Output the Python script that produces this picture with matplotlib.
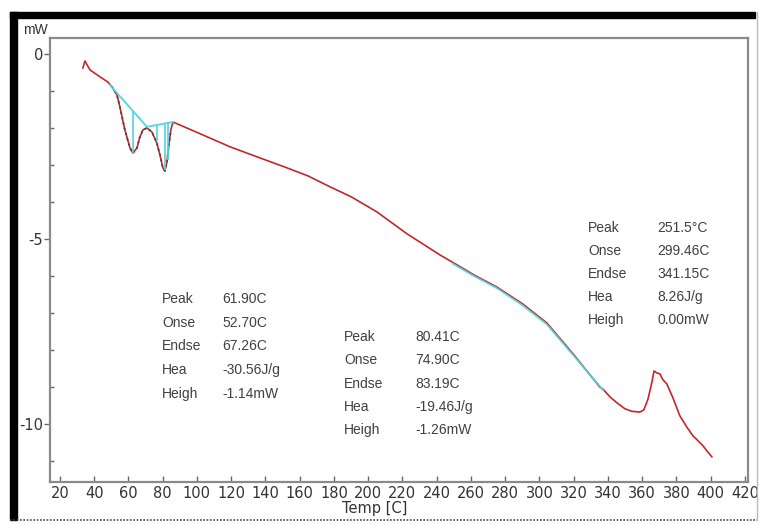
import matplotlib
matplotlib.use("Agg")
import matplotlib.pyplot as plt
from matplotlib.patches import Rectangle
from matplotlib.lines import Line2D
import numpy as np

# DSC curve
temp = [33.4, 34.6, 37.5, 43.4, 48.0, 50.4, 53.3, 55.0, 57.9, 60.9, 62.6, 65.0,
        66.7, 68.5, 70.8, 73.7, 76.6, 78.4, 80.1, 81.3, 82.5, 83.6, 84.8, 86.0,
        100.0, 119.3, 135.0, 152.6, 165.0, 177.6, 190.0, 205.1, 222.6, 241.8,
        251.8, 262.0, 275.1, 290.0, 304.3, 320.6, 335.2, 337.1, 341.2, 345.0,
        349.9, 354.0, 358.7, 361.0, 363.4, 365.7, 366.9, 368.5, 370.4, 372.0,
        374.4, 378.0, 382.0, 386.0, 389.6, 392.5, 395.5, 398.0, 400.7]
heat = [-0.38, -0.19, -0.43, -0.62, -0.76, -0.89, -1.11, -1.43, -2.05, -2.54,
        -2.68, -2.54, -2.24, -2.05, -2.00, -2.11, -2.41, -2.73, -3.08, -3.16,
        -2.92, -2.46, -2.05, -1.84, -2.12, -2.51, -2.78, -3.08, -3.30, -3.59,
        -3.86, -4.27, -4.86, -5.43, -5.70, -5.98, -6.30, -6.75, -7.27, -8.16,
        -9.00, -9.06, -9.27, -9.42, -9.59, -9.66, -9.68, -9.62, -9.33, -8.87,
        -8.57, -8.62, -8.65, -8.80, -8.92, -9.30, -9.78, -10.08, -10.32, -10.45,
        -10.59, -10.74, -10.89]

# integration baselines and markers
base_t = [49.2, 70.8, 86.0]
base_h = [-0.84, -1.97, -1.84]
vert_t = [62.6, 76.4, 81.3, 83.0]
vert_top = [-1.54, -1.95, -1.90, -1.87]
vert_bot = [-2.68, -2.35, -3.14, -2.86]
third_t = [249.4, 262.0, 275.1, 290.0, 304.3, 320.6, 337.1]
third_h = [-5.67, -6.01, -6.33, -6.79, -7.31, -8.19, -9.08]

labels = ["Peak", "Onse", "Endse", "Hea", "Heigh"]
block1 = ["61.90C", "52.70C", "67.26C", "-30.56J/g", "-1.14mW"]
block2 = ["80.41C", "74.90C", "83.19C", "-19.46J/g", "-1.26mW"]
block3 = ["251.5°C", "299.46C", "341.15C", "8.26J/g", "0.00mW"]

W, H = 759, 524
fig = plt.figure(figsize=(W / 100, H / 100), dpi=100)
fig.patch.set_facecolor("white")

def fx(px):
    return px / W

def fy(py):
    return 1 - py / H

# frame around the screenshot
fig.patches.append(Rectangle((fx(10), fy(18)), fx(745), fy(12) - fy(18),
                             transform=fig.transFigure, color="black", zorder=0))
fig.patches.append(Rectangle((fx(10), fy(520)), fx(7), fy(12) - fy(520),
                             transform=fig.transFigure, color="black", zorder=0))
fig.lines.append(Line2D([fx(10), fx(757)], [fy(520), fy(520)], transform=fig.transFigure,
                        color="#444444", lw=1.2, ls=(0, (1, 1))))
fig.lines.append(Line2D([fx(757), fx(757)], [fy(12), fy(520)], transform=fig.transFigure,
                        color="#bbbbbb", lw=1))

ax = fig.add_axes([fx(50), fy(482), fx(748 - 50), fy(38) - fy(482)])
ax.set_xlim(14.2, 421.8)
ax.set_ylim(-11.57, 0.43)

tick_font = {"family": ["Liberation Sans Narrow", "DejaVu Sans"], "size": 10.5}
ax.set_xticks(np.arange(20, 421, 20))
ax.set_xticklabels([str(v) for v in range(20, 421, 20)], fontdict=tick_font, color="#333333")
ax.set_yticks([0, -5, -10])
ax.set_yticklabels(["0", "-5", "-10"], fontdict=tick_font, color="#333333")
ax.set_yticks(np.arange(-11, 1, 1), minor=True)
ax.tick_params(axis="x", direction="in", length=4, width=1, color="#666666", pad=3)
ax.tick_params(axis="y", which="major", direction="out", length=4, width=1, color="#666666", pad=1)
ax.tick_params(axis="y", which="minor", direction="in", length=3, width=1, color="#666666")
for s in ax.spines.values():
    s.set_color("#8a8a8a")
    s.set_linewidth(1.6)

ax.plot(temp, heat, color="#c0282d", lw=1.2, zorder=3)
ax.plot(third_t, third_h, color="#4fd6de", lw=1.3, alpha=0.9, zorder=4)
ax.plot(temp[5:23], heat[5:23], color="#444444", lw=1.3, ls=(0, (1, 2)), zorder=4)
ax.plot(base_t, base_h, color="#4fd6de", lw=1.3, zorder=5)
ax.vlines(vert_t, vert_bot, vert_top, color="#4fd6de", lw=1.2, zorder=5)

fig.text(fx(23), fy(30), "mW", fontsize=10, color="#333333",
         family=["Liberation Sans", "DejaVu Sans"], va="center")
fig.text(fx(375), fy(508), "Temp [C]", fontsize=10.5, color="#333333",
         family=["Liberation Sans Narrow", "DejaVu Sans"], ha="center", va="center")

txt = dict(fontsize=10, color="#404040", family=["Liberation Sans", "DejaVu Sans"], va="center")
for i in range(5):
    fig.text(fx(162), fy(299 + i * 23.7), labels[i], **txt)
    fig.text(fx(222), fy(299 + i * 23.7), block1[i], **txt)
    fig.text(fx(344), fy(337 + i * 23.3), labels[i], **txt)
    fig.text(fx(415), fy(337 + i * 23.3), block2[i], **txt)
    fig.text(fx(588), fy(228 + i * 23.0), labels[i], **txt)
    fig.text(fx(657), fy(228 + i * 23.0), block3[i], **txt)

fig.savefig("out.png", dpi=100)
